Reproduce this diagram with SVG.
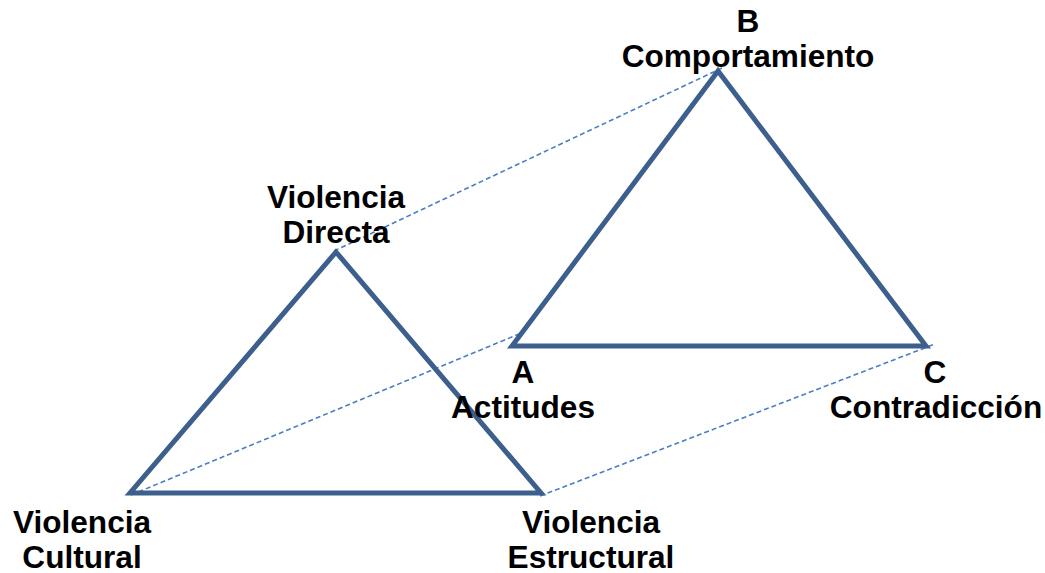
<svg xmlns="http://www.w3.org/2000/svg" width="1045" height="573" viewBox="0 0 1045 573">
  <style>
    .tri { fill: none; stroke: #3d5f8e; stroke-width: 5; stroke-linejoin: miter; }
    .link { fill: none; stroke: #4a7ec2; stroke-width: 1.6; stroke-dasharray: 5 3; }
    .lbl { font-family: "Liberation Sans", Arial, sans-serif; font-weight: bold; font-size: 31.6px; fill: #000; text-anchor: middle; }
  </style>
  <rect width="1045" height="573" fill="#ffffff"/>

  <!-- projection lines joining corresponding vertices -->
  <g id="connectors">
    <line class="link" x1="334" y1="251" x2="722" y2="68"/>
    <line class="link" x1="131" y1="495" x2="519" y2="334"/>
    <line class="link" x1="540" y1="496" x2="935" y2="344"/>
  </g>

  <!-- violence triangle -->
  <g id="violence-triangle">
    <polygon class="tri" points="336,252 130,493 541,493"/>
  </g>

  <!-- conflict triangle -->
  <g id="conflict-triangle">
    <polygon class="tri" points="718,71 512,346 926,346"/>
  </g>

  <g id="label-directa">
    <text class="lbl" x="336" y="208">Violencia</text>
    <text class="lbl" x="336" y="243">Directa</text>
  </g>
  <g id="label-cultural">
    <text class="lbl" x="82" y="533">Violencia</text>
    <text class="lbl" x="82" y="568">Cultural</text>
  </g>
  <g id="label-estructural">
    <text class="lbl" x="591" y="533">Violencia</text>
    <text class="lbl" x="591" y="568">Estructural</text>
  </g>
  <g id="label-b">
    <text class="lbl" x="748" y="32">B</text>
    <text class="lbl" x="748" y="67">Comportamiento</text>
  </g>
  <g id="label-a">
    <text class="lbl" x="523" y="383">A</text>
    <text class="lbl" x="523" y="418">Actitudes</text>
  </g>
  <g id="label-c">
    <text class="lbl" x="935" y="383">C</text>
    <text class="lbl" x="936" y="418">Contradicción</text>
  </g>
</svg>
